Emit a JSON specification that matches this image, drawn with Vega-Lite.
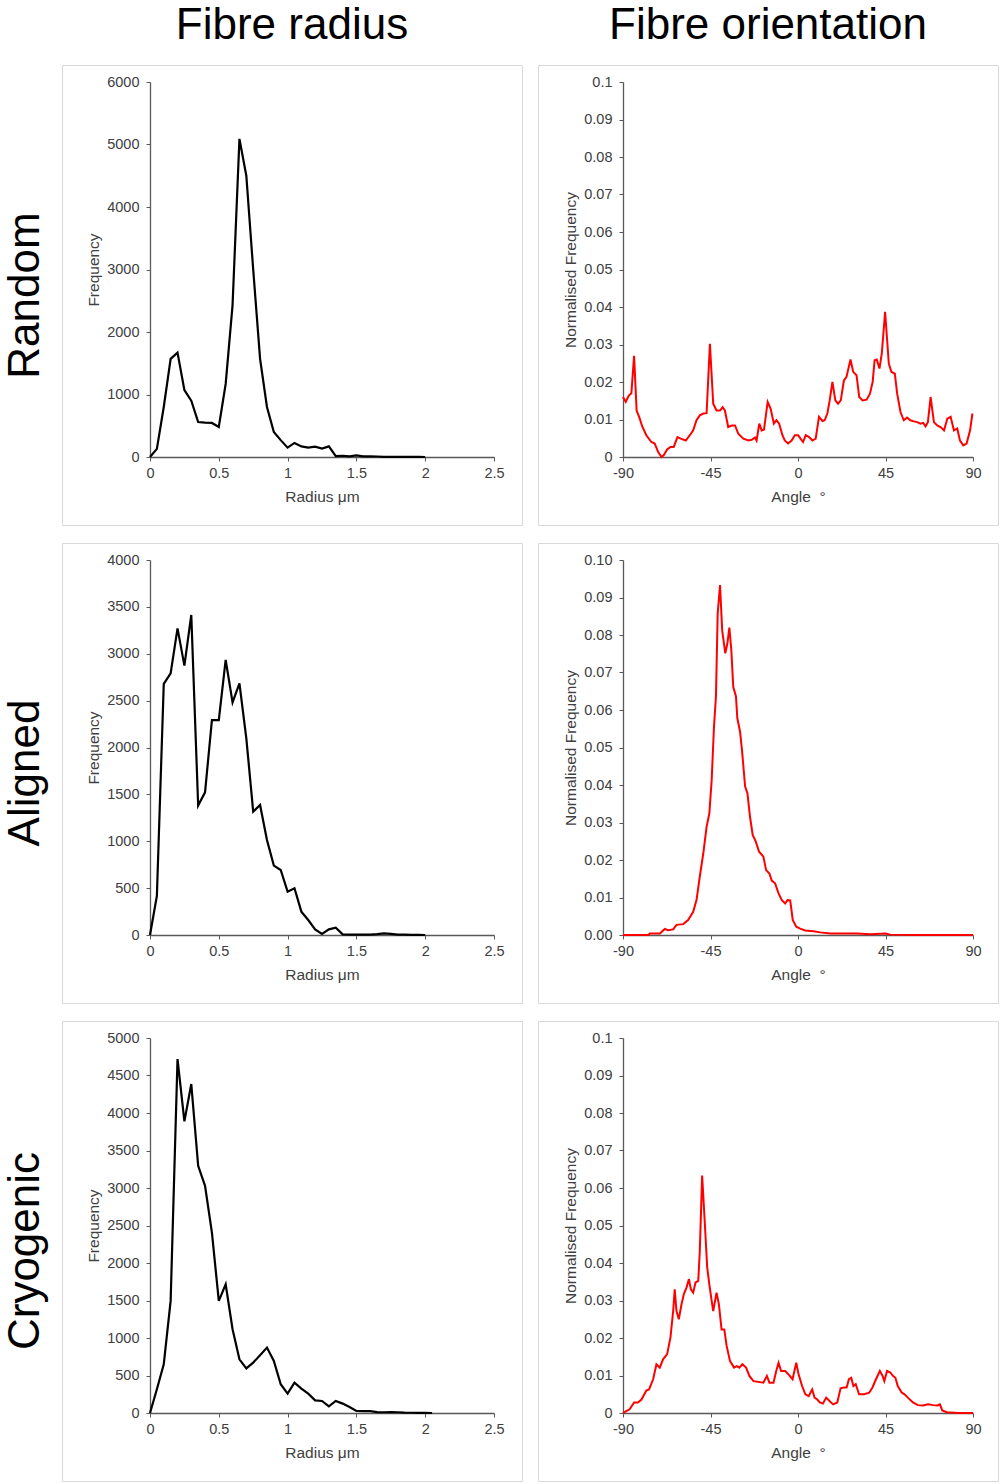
{
  "$schema": "https://vega.github.io/schema/vega-lite/v6.json",
  "background": "white",
  "padding": {"left": 3, "top": 3, "right": 0, "bottom": 0},
  "spacing": 16,
  "config": {
    "font": "Liberation Sans",
    "view": {"stroke": "#d9d9d9", "strokeWidth": 1},
    "axis": {
      "grid": false,
      "labelFont": "Liberation Sans",
      "labelFontSize": 14.5,
      "labelColor": "#404040",
      "labelFlush": false,
      "labelOverlap": false,
      "titleFont": "Liberation Sans",
      "titleFontSize": 15.5,
      "titleFontWeight": "normal",
      "titleColor": "#404040",
      "domainColor": "#595959",
      "domainWidth": 1.3,
      "tickColor": "#595959",
      "tickSize": 4
    },
    "axisX": {"labelPadding": 5},
    "axisY": {"labelPadding": 7},
    "title": {"font": "Liberation Sans", "fontSize": 44, "fontWeight": "normal", "color": "black"}
  },
  "datasets": {
    "randomRadius": [
      {"radius": 0, "count": 0}, {"radius": 0.05, "count": 130}, {"radius": 0.1, "count": 800},
      {"radius": 0.15, "count": 1570}, {"radius": 0.2, "count": 1670}, {"radius": 0.25, "count": 1070},
      {"radius": 0.3, "count": 900}, {"radius": 0.35, "count": 560}, {"radius": 0.4, "count": 550},
      {"radius": 0.45, "count": 545}, {"radius": 0.5, "count": 480}, {"radius": 0.55, "count": 1170},
      {"radius": 0.6, "count": 2430}, {"radius": 0.65, "count": 5090}, {"radius": 0.7, "count": 4500},
      {"radius": 0.75, "count": 3000}, {"radius": 0.8, "count": 1570}, {"radius": 0.85, "count": 800},
      {"radius": 0.9, "count": 400}, {"radius": 0.95, "count": 270}, {"radius": 1.0, "count": 150},
      {"radius": 1.05, "count": 225}, {"radius": 1.1, "count": 170}, {"radius": 1.15, "count": 150},
      {"radius": 1.2, "count": 165}, {"radius": 1.25, "count": 135}, {"radius": 1.3, "count": 170},
      {"radius": 1.35, "count": 15}, {"radius": 1.4, "count": 20}, {"radius": 1.45, "count": 10},
      {"radius": 1.5, "count": 25}, {"radius": 1.55, "count": 10}, {"radius": 1.6, "count": 10},
      {"radius": 1.65, "count": 8}, {"radius": 1.7, "count": 3}, {"radius": 1.75, "count": 2},
      {"radius": 1.8, "count": 2}, {"radius": 1.85, "count": 1}, {"radius": 1.9, "count": 1},
      {"radius": 1.95, "count": 1}, {"radius": 2.0, "count": 0}
    ],
    "alignedRadius": [
      {"radius": 0, "count": 0}, {"radius": 0.05, "count": 416}, {"radius": 0.1, "count": 2678},
      {"radius": 0.15, "count": 2791}, {"radius": 0.2, "count": 3271}, {"radius": 0.25, "count": 2873},
      {"radius": 0.3, "count": 3414}, {"radius": 0.35, "count": 1380}, {"radius": 0.4, "count": 1522},
      {"radius": 0.45, "count": 2293}, {"radius": 0.5, "count": 2293}, {"radius": 0.55, "count": 2934},
      {"radius": 0.6, "count": 2482}, {"radius": 0.65, "count": 2685}, {"radius": 0.7, "count": 2098},
      {"radius": 0.75, "count": 1316}, {"radius": 0.8, "count": 1387}, {"radius": 0.85, "count": 1013},
      {"radius": 0.9, "count": 740}, {"radius": 0.95, "count": 693}, {"radius": 1.0, "count": 462},
      {"radius": 1.05, "count": 498}, {"radius": 1.1, "count": 249}, {"radius": 1.15, "count": 160},
      {"radius": 1.2, "count": 60}, {"radius": 1.25, "count": 11}, {"radius": 1.3, "count": 60},
      {"radius": 1.35, "count": 78}, {"radius": 1.4, "count": 7}, {"radius": 1.45, "count": 3},
      {"radius": 1.5, "count": 3}, {"radius": 1.55, "count": 5}, {"radius": 1.6, "count": 5},
      {"radius": 1.65, "count": 10}, {"radius": 1.7, "count": 18}, {"radius": 1.75, "count": 12},
      {"radius": 1.8, "count": 5}, {"radius": 1.85, "count": 3}, {"radius": 1.9, "count": 2},
      {"radius": 1.95, "count": 1}, {"radius": 2.0, "count": 0}
    ],
    "cryoRadius": [
      {"radius": 0, "count": 0}, {"radius": 0.05, "count": 316}, {"radius": 0.1, "count": 650},
      {"radius": 0.15, "count": 1495}, {"radius": 0.2, "count": 4719}, {"radius": 0.25, "count": 3888},
      {"radius": 0.3, "count": 4386}, {"radius": 0.35, "count": 3296}, {"radius": 0.4, "count": 3029},
      {"radius": 0.45, "count": 2406}, {"radius": 0.5, "count": 1495}, {"radius": 0.55, "count": 1717},
      {"radius": 0.6, "count": 1117}, {"radius": 0.65, "count": 716}, {"radius": 0.7, "count": 596},
      {"radius": 0.75, "count": 672}, {"radius": 0.8, "count": 770}, {"radius": 0.85, "count": 872},
      {"radius": 0.9, "count": 694}, {"radius": 0.95, "count": 383}, {"radius": 1.0, "count": 258},
      {"radius": 1.05, "count": 405}, {"radius": 1.1, "count": 325}, {"radius": 1.15, "count": 258},
      {"radius": 1.2, "count": 169}, {"radius": 1.25, "count": 160}, {"radius": 1.3, "count": 89},
      {"radius": 1.35, "count": 160}, {"radius": 1.4, "count": 125}, {"radius": 1.45, "count": 80},
      {"radius": 1.5, "count": 27}, {"radius": 1.55, "count": 25}, {"radius": 1.6, "count": 25},
      {"radius": 1.65, "count": 12}, {"radius": 1.7, "count": 10}, {"radius": 1.75, "count": 12},
      {"radius": 1.8, "count": 10}, {"radius": 1.85, "count": 4}, {"radius": 1.9, "count": 3},
      {"radius": 1.95, "count": 3}, {"radius": 2.0, "count": 2}, {"radius": 2.05, "count": 0}
    ],
    "randomOrient": [
      {"angle": -90, "freq": 0.016}, {"angle": -88.6, "freq": 0.0147}, {"angle": -87, "freq": 0.0164},
      {"angle": -85.7, "freq": 0.017}, {"angle": -84.3, "freq": 0.027}, {"angle": -83, "freq": 0.0124},
      {"angle": -81.7, "freq": 0.0107}, {"angle": -80, "freq": 0.008}, {"angle": -78, "freq": 0.0058},
      {"angle": -75.4, "freq": 0.004}, {"angle": -73.7, "freq": 0.0036}, {"angle": -71.9, "freq": 0.0013},
      {"angle": -70.2, "freq": 0}, {"angle": -69, "freq": 0.0005}, {"angle": -67.3, "freq": 0.002},
      {"angle": -65.6, "freq": 0.0027}, {"angle": -63.9, "freq": 0.0027}, {"angle": -62, "freq": 0.0053},
      {"angle": -60.3, "freq": 0.0049}, {"angle": -57.7, "freq": 0.0044}, {"angle": -55.1, "freq": 0.0062},
      {"angle": -53.9, "freq": 0.0071}, {"angle": -52.2, "freq": 0.0098}, {"angle": -50.5, "freq": 0.0111},
      {"angle": -48.7, "freq": 0.0116}, {"angle": -47, "freq": 0.0117}, {"angle": -45.3, "freq": 0.0302},
      {"angle": -43.6, "freq": 0.0142}, {"angle": -41.9, "freq": 0.0124}, {"angle": -40.1, "freq": 0.0124},
      {"angle": -38.8, "freq": 0.0133}, {"angle": -37.6, "freq": 0.0124}, {"angle": -35.9, "freq": 0.008},
      {"angle": -34.1, "freq": 0.0084}, {"angle": -32.4, "freq": 0.0084}, {"angle": -30.7, "freq": 0.0062},
      {"angle": -28.1, "freq": 0.0049}, {"angle": -25.5, "freq": 0.0044}, {"angle": -23.8, "freq": 0.0046},
      {"angle": -22.1, "freq": 0.0052}, {"angle": -21.3, "freq": 0.0044}, {"angle": -19.9, "freq": 0.0089},
      {"angle": -18.7, "freq": 0.0071}, {"angle": -17.5, "freq": 0.0073}, {"angle": -15.6, "freq": 0.0147},
      {"angle": -14.1, "freq": 0.0129}, {"angle": -12.4, "freq": 0.0089}, {"angle": -11.1, "freq": 0.0098},
      {"angle": -9.7, "freq": 0.0089}, {"angle": -8, "freq": 0.0058}, {"angle": -6.8, "freq": 0.0044},
      {"angle": -5.1, "freq": 0.0036}, {"angle": -3.3, "freq": 0.0044}, {"angle": -1.6, "freq": 0.0058},
      {"angle": 0.1, "freq": 0.0058}, {"angle": 1.3, "freq": 0.0049}, {"angle": 2.6, "freq": 0.004},
      {"angle": 4, "freq": 0.0058}, {"angle": 5.7, "freq": 0.0053}, {"angle": 7.4, "freq": 0.0044},
      {"angle": 9.1, "freq": 0.0049}, {"angle": 10.8, "freq": 0.0107}, {"angle": 12.6, "freq": 0.0096},
      {"angle": 13.7, "freq": 0.0098}, {"angle": 15.1, "freq": 0.0116}, {"angle": 16.3, "freq": 0.0151},
      {"angle": 17.7, "freq": 0.02}, {"angle": 19.2, "freq": 0.0151}, {"angle": 20.6, "freq": 0.0142},
      {"angle": 22, "freq": 0.0151}, {"angle": 23.6, "freq": 0.0204}, {"angle": 24.9, "freq": 0.0213},
      {"angle": 27, "freq": 0.026}, {"angle": 28.4, "freq": 0.0227}, {"angle": 30.1, "freq": 0.0218},
      {"angle": 31.5, "freq": 0.016}, {"angle": 33.2, "freq": 0.0151}, {"angle": 35.3, "freq": 0.0153},
      {"angle": 37, "freq": 0.0169}, {"angle": 38.4, "freq": 0.02}, {"angle": 39.4, "freq": 0.0258},
      {"angle": 40.5, "freq": 0.026}, {"angle": 41.9, "freq": 0.0236}, {"angle": 43.1, "freq": 0.0276},
      {"angle": 44.8, "freq": 0.0387}, {"angle": 46.7, "freq": 0.0249}, {"angle": 48, "freq": 0.0227},
      {"angle": 49.8, "freq": 0.0222}, {"angle": 51, "freq": 0.0169}, {"angle": 52.7, "freq": 0.012},
      {"angle": 54.4, "freq": 0.0098}, {"angle": 56.1, "freq": 0.0105}, {"angle": 57.8, "freq": 0.0098},
      {"angle": 59.6, "freq": 0.0095}, {"angle": 61.3, "freq": 0.0093}, {"angle": 63, "freq": 0.0089},
      {"angle": 64.4, "freq": 0.0091}, {"angle": 65.6, "freq": 0.0082}, {"angle": 66.8, "freq": 0.0093},
      {"angle": 68.2, "freq": 0.016}, {"angle": 69.9, "freq": 0.0093}, {"angle": 71.6, "freq": 0.0084},
      {"angle": 73.3, "freq": 0.008}, {"angle": 75.1, "freq": 0.0071}, {"angle": 76.8, "freq": 0.0102},
      {"angle": 78.5, "freq": 0.0107}, {"angle": 80.2, "freq": 0.0071}, {"angle": 81.9, "freq": 0.0076},
      {"angle": 83.3, "freq": 0.0044}, {"angle": 85, "freq": 0.0031}, {"angle": 86.7, "freq": 0.0036},
      {"angle": 88.5, "freq": 0.0071}, {"angle": 89.7, "freq": 0.0116}
    ],
    "alignedOrient": [
      {"angle": -90, "freq": 0}, {"angle": -77, "freq": 0}, {"angle": -76.2, "freq": 0.0004},
      {"angle": -71, "freq": 0.0004}, {"angle": -68.5, "freq": 0.0016}, {"angle": -66.8, "freq": 0.0013},
      {"angle": -64.2, "freq": 0.0015}, {"angle": -62.5, "freq": 0.0027}, {"angle": -59, "freq": 0.0029},
      {"angle": -56.5, "freq": 0.004}, {"angle": -53.9, "freq": 0.0062}, {"angle": -52.2, "freq": 0.0093},
      {"angle": -50.5, "freq": 0.0156}, {"angle": -48.7, "freq": 0.0218}, {"angle": -47, "freq": 0.0289},
      {"angle": -45.6, "freq": 0.0324}, {"angle": -44.4, "freq": 0.0413}, {"angle": -43.2, "freq": 0.0556},
      {"angle": -42.2, "freq": 0.0636}, {"angle": -41.3, "freq": 0.0858}, {"angle": -40.1, "freq": 0.0933},
      {"angle": -39, "freq": 0.0813}, {"angle": -37.4, "freq": 0.0751}, {"angle": -36.3, "freq": 0.0778},
      {"angle": -35.3, "freq": 0.082}, {"angle": -34.3, "freq": 0.076}, {"angle": -33.3, "freq": 0.0662},
      {"angle": -31.9, "freq": 0.0636}, {"angle": -31.2, "freq": 0.0578}, {"angle": -29.8, "freq": 0.0542},
      {"angle": -28.8, "freq": 0.0493}, {"angle": -27.2, "freq": 0.0396}, {"angle": -26, "freq": 0.0378},
      {"angle": -24.7, "freq": 0.0316}, {"angle": -23.3, "freq": 0.0267}, {"angle": -21.7, "freq": 0.0249},
      {"angle": -20, "freq": 0.0222}, {"angle": -17.8, "freq": 0.0209}, {"angle": -16.4, "freq": 0.0173},
      {"angle": -14.7, "freq": 0.0164}, {"angle": -13.5, "freq": 0.0145}, {"angle": -11.8, "freq": 0.0138},
      {"angle": -10, "freq": 0.0111}, {"angle": -8.3, "freq": 0.0093}, {"angle": -6.6, "freq": 0.0084},
      {"angle": -5.4, "freq": 0.0093}, {"angle": -4, "freq": 0.0092}, {"angle": -2.7, "freq": 0.004},
      {"angle": -0.9, "freq": 0.0022}, {"angle": 1.1, "freq": 0.0017}, {"angle": 3.7, "freq": 0.0012},
      {"angle": 8, "freq": 0.001}, {"angle": 11.4, "freq": 0.0007}, {"angle": 16.6, "freq": 0.0004},
      {"angle": 23.5, "freq": 0.0004}, {"angle": 30.3, "freq": 0.0004}, {"angle": 37.2, "freq": 0.0002},
      {"angle": 45, "freq": 0.0004}, {"angle": 47.5, "freq": 0.0001}, {"angle": 60, "freq": 0},
      {"angle": 90, "freq": 0}
    ],
    "cryoOrient": [
      {"angle": -90, "freq": 0}, {"angle": -88.3, "freq": 0.0005}, {"angle": -86.6, "freq": 0.001},
      {"angle": -84.3, "freq": 0.0028}, {"angle": -82.3, "freq": 0.0028}, {"angle": -80.5, "freq": 0.0036},
      {"angle": -78, "freq": 0.006}, {"angle": -76.6, "freq": 0.0063}, {"angle": -74.5, "freq": 0.009},
      {"angle": -72.8, "freq": 0.013}, {"angle": -71.1, "freq": 0.0121}, {"angle": -69.4, "freq": 0.0143},
      {"angle": -67.3, "freq": 0.0157}, {"angle": -65.6, "freq": 0.0201}, {"angle": -64.2, "freq": 0.0272},
      {"angle": -63.4, "freq": 0.033}, {"angle": -62.5, "freq": 0.0272}, {"angle": -61.3, "freq": 0.025},
      {"angle": -59.9, "freq": 0.029}, {"angle": -58.7, "freq": 0.0317}, {"angle": -57.3, "freq": 0.0335},
      {"angle": -56.1, "freq": 0.0357}, {"angle": -55.1, "freq": 0.033}, {"angle": -53.9, "freq": 0.0321},
      {"angle": -52.7, "freq": 0.0348}, {"angle": -51.3, "freq": 0.0352}, {"angle": -50.5, "freq": 0.0432},
      {"angle": -49.3, "freq": 0.0633}, {"angle": -47.9, "freq": 0.0504}, {"angle": -46.7, "freq": 0.0388},
      {"angle": -45.6, "freq": 0.0343}, {"angle": -44.4, "freq": 0.0299}, {"angle": -43.6, "freq": 0.0272},
      {"angle": -41.9, "freq": 0.0321}, {"angle": -40.7, "freq": 0.029}, {"angle": -39.3, "freq": 0.0223},
      {"angle": -37.9, "freq": 0.0223}, {"angle": -36.7, "freq": 0.0179}, {"angle": -35, "freq": 0.0139},
      {"angle": -32.9, "freq": 0.0121}, {"angle": -31.5, "freq": 0.0125}, {"angle": -30.2, "freq": 0.0121},
      {"angle": -28.6, "freq": 0.013}, {"angle": -26.7, "freq": 0.0121}, {"angle": -25, "freq": 0.0099},
      {"angle": -22.9, "freq": 0.0085}, {"angle": -20.4, "freq": 0.0083}, {"angle": -17.8, "freq": 0.0081},
      {"angle": -16, "freq": 0.0099}, {"angle": -14.7, "freq": 0.0081}, {"angle": -12.6, "freq": 0.0081},
      {"angle": -11.2, "freq": 0.0112}, {"angle": -10, "freq": 0.0134}, {"angle": -8.7, "freq": 0.0112},
      {"angle": -6.6, "freq": 0.0112}, {"angle": -4.9, "freq": 0.0103}, {"angle": -2.8, "freq": 0.009},
      {"angle": -0.9, "freq": 0.0134}, {"angle": 0.3, "freq": 0.0103}, {"angle": 2.1, "freq": 0.0072},
      {"angle": 3.8, "freq": 0.005}, {"angle": 5.5, "freq": 0.0045}, {"angle": 7.3, "freq": 0.0063},
      {"angle": 8.5, "freq": 0.0041}, {"angle": 9.9, "freq": 0.0036}, {"angle": 11.2, "freq": 0.0028},
      {"angle": 12.8, "freq": 0.0025}, {"angle": 14.5, "freq": 0.0041}, {"angle": 16.2, "freq": 0.0032},
      {"angle": 18.1, "freq": 0.0023}, {"angle": 20.2, "freq": 0.0028}, {"angle": 21.9, "freq": 0.0066},
      {"angle": 23.6, "freq": 0.0068}, {"angle": 25, "freq": 0.0068}, {"angle": 26.2, "freq": 0.009},
      {"angle": 27.4, "freq": 0.0094}, {"angle": 28.5, "freq": 0.0072}, {"angle": 29.7, "freq": 0.0077},
      {"angle": 31.4, "freq": 0.005}, {"angle": 34, "freq": 0.005}, {"angle": 36.6, "freq": 0.0054},
      {"angle": 38.3, "freq": 0.0068}, {"angle": 40.1, "freq": 0.009}, {"angle": 42.1, "freq": 0.0112},
      {"angle": 43.5, "freq": 0.0099}, {"angle": 44.4, "freq": 0.0085}, {"angle": 45.8, "freq": 0.0112},
      {"angle": 47.5, "freq": 0.0108}, {"angle": 48.8, "freq": 0.0099}, {"angle": 50.1, "freq": 0.0094},
      {"angle": 51.3, "freq": 0.0072}, {"angle": 53.4, "freq": 0.0054}, {"angle": 54.8, "freq": 0.005},
      {"angle": 56.5, "freq": 0.0041}, {"angle": 59.1, "freq": 0.0028}, {"angle": 61.7, "freq": 0.0021},
      {"angle": 64.3, "freq": 0.002}, {"angle": 66.9, "freq": 0.0023}, {"angle": 69.5, "freq": 0.0021},
      {"angle": 71.8, "freq": 0.002}, {"angle": 73, "freq": 0.0023}, {"angle": 74.2, "freq": 0.0007},
      {"angle": 76.5, "freq": 0.0002}, {"angle": 82.5, "freq": 0}, {"angle": 90, "freq": 0}
    ]
  },
  "vconcat": [
    {
      "title": {"text": "Random", "orient": "left", "anchor": "middle", "offset": 14, "dx": -31},
      "spacing": 14,
      "hconcat": [
        {
          "title": {"text": "Fibre radius", "anchor": "middle", "offset": 17},
          "width": 460, "height": 460,
          "data": {"name": "randomRadius"},
          "mark": {"type": "line", "color": "black", "strokeWidth": 2.2},
          "encoding": {
            "x": {"field": "radius", "type": "quantitative",
              "scale": {"domain": [0, 2.5], "range": [88, 432], "nice": false},
              "axis": {"title": "Radius μm", "values": [0, 0.5, 1, 1.5, 2, 2.5], "format": "~g", "offset": -68, "titlePadding": 10}},
            "y": {"field": "count", "type": "quantitative",
              "scale": {"domain": [0, 6000], "range": [392, 17], "nice": false},
              "axis": {"title": "Frequency", "values": [0, 1000, 2000, 3000, 4000, 5000, 6000], "format": "d", "offset": -88, "titlePadding": 5}}
          }
        },
        {
          "title": {"text": "Fibre orientation", "anchor": "middle", "offset": 17},
          "width": 460, "height": 460,
          "data": {"name": "randomOrient"},
          "mark": {"type": "line", "color": "#ff0000", "strokeWidth": 2},
          "encoding": {
            "x": {"field": "angle", "type": "quantitative",
              "scale": {"domain": [-90, 90], "range": [85, 435], "nice": false},
              "axis": {"title": "Angle \u00a0°", "values": [-90, -45, 0, 45, 90], "labelExpr": "datum.value < 0 ? '-' + abs(datum.value) : '' + datum.value", "offset": -68, "titlePadding": 10}},
            "y": {"field": "freq", "type": "quantitative",
              "scale": {"domain": [0, 0.1], "range": [392, 17], "nice": false},
              "axis": {"title": "Normalised Frequency", "values": [0, 0.01, 0.02, 0.03, 0.04, 0.05, 0.06, 0.07, 0.08, 0.09, 0.1], "format": ".2~f", "offset": -85, "titlePadding": 5}}
          }
        }
      ]
    },
    {
      "title": {"text": "Aligned", "orient": "left", "anchor": "middle", "offset": 14},
      "spacing": 14,
      "hconcat": [
        {
          "width": 460, "height": 460,
          "data": {"name": "alignedRadius"},
          "mark": {"type": "line", "color": "black", "strokeWidth": 2.2},
          "encoding": {
            "x": {"field": "radius", "type": "quantitative",
              "scale": {"domain": [0, 2.5], "range": [88, 432], "nice": false},
              "axis": {"title": "Radius μm", "values": [0, 0.5, 1, 1.5, 2, 2.5], "format": "~g", "offset": -68, "titlePadding": 10}},
            "y": {"field": "count", "type": "quantitative",
              "scale": {"domain": [0, 4000], "range": [392, 17], "nice": false},
              "axis": {"title": "Frequency", "values": [0, 500, 1000, 1500, 2000, 2500, 3000, 3500, 4000], "format": "d", "offset": -88, "titlePadding": 5}}
          }
        },
        {
          "width": 460, "height": 460,
          "data": {"name": "alignedOrient"},
          "mark": {"type": "line", "color": "#ff0000", "strokeWidth": 2},
          "encoding": {
            "x": {"field": "angle", "type": "quantitative",
              "scale": {"domain": [-90, 90], "range": [85, 435], "nice": false},
              "axis": {"title": "Angle \u00a0°", "values": [-90, -45, 0, 45, 90], "labelExpr": "datum.value < 0 ? '-' + abs(datum.value) : '' + datum.value", "offset": -68, "titlePadding": 10}},
            "y": {"field": "freq", "type": "quantitative",
              "scale": {"domain": [0, 0.1], "range": [392, 17], "nice": false},
              "axis": {"title": "Normalised Frequency", "values": [0, 0.01, 0.02, 0.03, 0.04, 0.05, 0.06, 0.07, 0.08, 0.09, 0.1], "format": ".2f", "offset": -85, "titlePadding": 5}}
          }
        }
      ]
    },
    {
      "title": {"text": "Cryogenic", "orient": "left", "anchor": "middle", "offset": 14},
      "spacing": 14,
      "hconcat": [
        {
          "width": 460, "height": 460,
          "data": {"name": "cryoRadius"},
          "mark": {"type": "line", "color": "black", "strokeWidth": 2.2},
          "encoding": {
            "x": {"field": "radius", "type": "quantitative",
              "scale": {"domain": [0, 2.5], "range": [88, 432], "nice": false},
              "axis": {"title": "Radius μm", "values": [0, 0.5, 1, 1.5, 2, 2.5], "format": "~g", "offset": -68, "titlePadding": 10}},
            "y": {"field": "count", "type": "quantitative",
              "scale": {"domain": [0, 5000], "range": [392, 17], "nice": false},
              "axis": {"title": "Frequency", "values": [0, 500, 1000, 1500, 2000, 2500, 3000, 3500, 4000, 4500, 5000], "format": "d", "offset": -88, "titlePadding": 5}}
          }
        },
        {
          "width": 460, "height": 460,
          "data": {"name": "cryoOrient"},
          "mark": {"type": "line", "color": "#ff0000", "strokeWidth": 2},
          "encoding": {
            "x": {"field": "angle", "type": "quantitative",
              "scale": {"domain": [-90, 90], "range": [85, 435], "nice": false},
              "axis": {"title": "Angle \u00a0°", "values": [-90, -45, 0, 45, 90], "labelExpr": "datum.value < 0 ? '-' + abs(datum.value) : '' + datum.value", "offset": -68, "titlePadding": 10}},
            "y": {"field": "freq", "type": "quantitative",
              "scale": {"domain": [0, 0.1], "range": [392, 17], "nice": false},
              "axis": {"title": "Normalised Frequency", "values": [0, 0.01, 0.02, 0.03, 0.04, 0.05, 0.06, 0.07, 0.08, 0.09, 0.1], "format": ".2~f", "offset": -85, "titlePadding": 5}}
          }
        }
      ]
    }
  ]
}
